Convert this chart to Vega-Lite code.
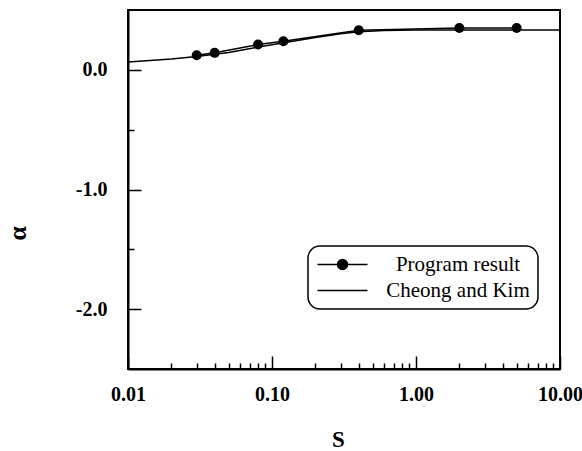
{
  "$schema": "https://vega.github.io/schema/vega-lite/v6.json",
  "width": 432,
  "height": 359,
  "autosize": {"type": "none"},
  "padding": {"left": 128, "top": 10, "right": 22, "bottom": 82},
  "background": "white",
  "config": {"view": {"stroke": "black", "strokeWidth": 2}, "font": "Liberation Serif"},
  "data": {
    "values": [
      {"series": "Cheong and Kim", "S": 0.01, "alpha": 0.065},
      {"series": "Cheong and Kim", "S": 0.02, "alpha": 0.09},
      {"series": "Cheong and Kim", "S": 0.03, "alpha": 0.112},
      {"series": "Cheong and Kim", "S": 0.05, "alpha": 0.145},
      {"series": "Cheong and Kim", "S": 0.08, "alpha": 0.19},
      {"series": "Cheong and Kim", "S": 0.1, "alpha": 0.21},
      {"series": "Cheong and Kim", "S": 0.15, "alpha": 0.245},
      {"series": "Cheong and Kim", "S": 0.2, "alpha": 0.27},
      {"series": "Cheong and Kim", "S": 0.3, "alpha": 0.302},
      {"series": "Cheong and Kim", "S": 0.4, "alpha": 0.318},
      {"series": "Cheong and Kim", "S": 0.6, "alpha": 0.328},
      {"series": "Cheong and Kim", "S": 1, "alpha": 0.332},
      {"series": "Cheong and Kim", "S": 2, "alpha": 0.333},
      {"series": "Cheong and Kim", "S": 5, "alpha": 0.333},
      {"series": "Cheong and Kim", "S": 10, "alpha": 0.333},
      {"series": "Program result", "S": 0.03, "alpha": 0.122},
      {"series": "Program result", "S": 0.04, "alpha": 0.142},
      {"series": "Program result", "S": 0.08, "alpha": 0.211},
      {"series": "Program result", "S": 0.12, "alpha": 0.239},
      {"series": "Program result", "S": 0.4, "alpha": 0.331},
      {"series": "Program result", "S": 2, "alpha": 0.35},
      {"series": "Program result", "S": 5, "alpha": 0.35}
    ]
  },
  "layer": [
    {
      "mark": {"type": "line", "strokeWidth": 1.5, "clip": true},
      "encoding": {
        "x": {
          "field": "S",
          "type": "quantitative",
          "scale": {"type": "log", "domain": [0.01, 10], "nice": false},
          "axis": {
            "title": "S",
            "values": [0.01, 0.02, 0.03, 0.04, 0.05, 0.06, 0.07, 0.08, 0.09, 0.1, 0.2, 0.3, 0.4, 0.5, 0.6, 0.7, 0.8, 0.9, 1, 2, 3, 4, 5, 6, 7, 8, 9, 10],
            "labelExpr": "abs(log(datum.value)/LN10 - round(log(datum.value)/LN10)) < 0.001 ? format(datum.value, '.2f') : ''",
            "tickSize": {"condition": {"test": "abs(log(datum.value)/LN10 - round(log(datum.value)/LN10)) < 0.001", "value": -13}, "value": -6},
            "tickColor": "black",
            "tickWidth": 1.5,
            "domainColor": "black",
            "domainWidth": 2,
            "grid": false,
            "labelFont": "Liberation Serif",
            "labelFontWeight": "bold",
            "labelFontSize": 20,
            "labelColor": "black",
            "labelPadding": 28,
            "labelFlush": false,
            "labelOverlap": false,
            "labelBound": false,
            "titleFont": "Liberation Serif",
            "titleFontSize": 23,
            "titleFontWeight": "bold",
            "titleColor": "black",
            "titleX": 210,
            "titleY": 77,
            "titleAlign": "center",
            "titleBaseline": "alphabetic"
          }
        },
        "y": {
          "field": "alpha",
          "type": "quantitative",
          "scale": {"domain": [-2.5, 0.5], "nice": false, "zero": false},
          "axis": {
            "title": "α",
            "values": [-2, -1.5, -1, -0.5, 0],
            "labelExpr": "datum.value % 1 === 0 ? replace(format(datum.value, '.1f'), '\u2212', '-') : ''",
            "tickSize": {"condition": {"test": "datum.value % 1 === 0", "value": -13}, "value": -6},
            "tickColor": "black",
            "tickWidth": 1.5,
            "domainColor": "black",
            "domainWidth": 2,
            "grid": false,
            "labelFont": "Liberation Serif",
            "labelFontWeight": "bold",
            "labelFontSize": 20,
            "labelColor": "black",
            "labelPadding": 34,
            "labelOverlap": false,
            "labelBound": false,
            "labelFlush": false,
            "titleFont": "Liberation Serif",
            "titleFontSize": 26,
            "titleFontWeight": "bold",
            "titleColor": "black",
            "titleAngle": 270,
            "titleX": -103,
            "titleY": 223,
            "titleAlign": "center",
            "titleBaseline": "alphabetic"
          }
        },
        "color": {
          "field": "series",
          "type": "nominal",
          "scale": {"domain": ["Program result", "Cheong and Kim"], "range": ["black", "black"]},
          "legend": {
            "title": null,
            "orient": "none",
            "legendX": 180,
            "legendY": 236,
            "direction": "vertical",
            "strokeColor": "black",
            "cornerRadius": 12,
            "fillColor": "white",
            "padding": 8,
            "rowPadding": 4,
            "symbolSize": 100,
            "symbolStrokeWidth": 1.5,
            "symbolStrokeColor": "black",
            "symbolFillColor": "black",
            "symbolOffset": 16,
            "labelFont": "Liberation Serif",
            "labelFontSize": 21,
            "labelColor": "black",
            "labelAlign": "center",
            "labelOffset": 105,
            "labelLimit": 300,
            "encode": {
              "legend": {"update": {"strokeWidth": {"value": 1.5}}},
              "symbols": {
                "update": {
                  "shape": {"signal": "datum.value === 'Program result' ? 'M-5,0H5M-1,0A1,1,0,1,1,1,0A1,1,0,1,1,-1,0Z' : 'M-5,0H5'"},
                  "fill": {"value": "black"},
                  "stroke": {"value": "black"},
                  "opacity": {"value": 1}
                }
              }
            }
          }
        }
      }
    },
    {
      "transform": [{"filter": "datum.series === 'Program result'"}],
      "mark": {"type": "point", "filled": true, "size": 100, "color": "black", "opacity": 1},
      "encoding": {
        "x": {"field": "S", "type": "quantitative"},
        "y": {"field": "alpha", "type": "quantitative"}
      }
    }
  ]
}
